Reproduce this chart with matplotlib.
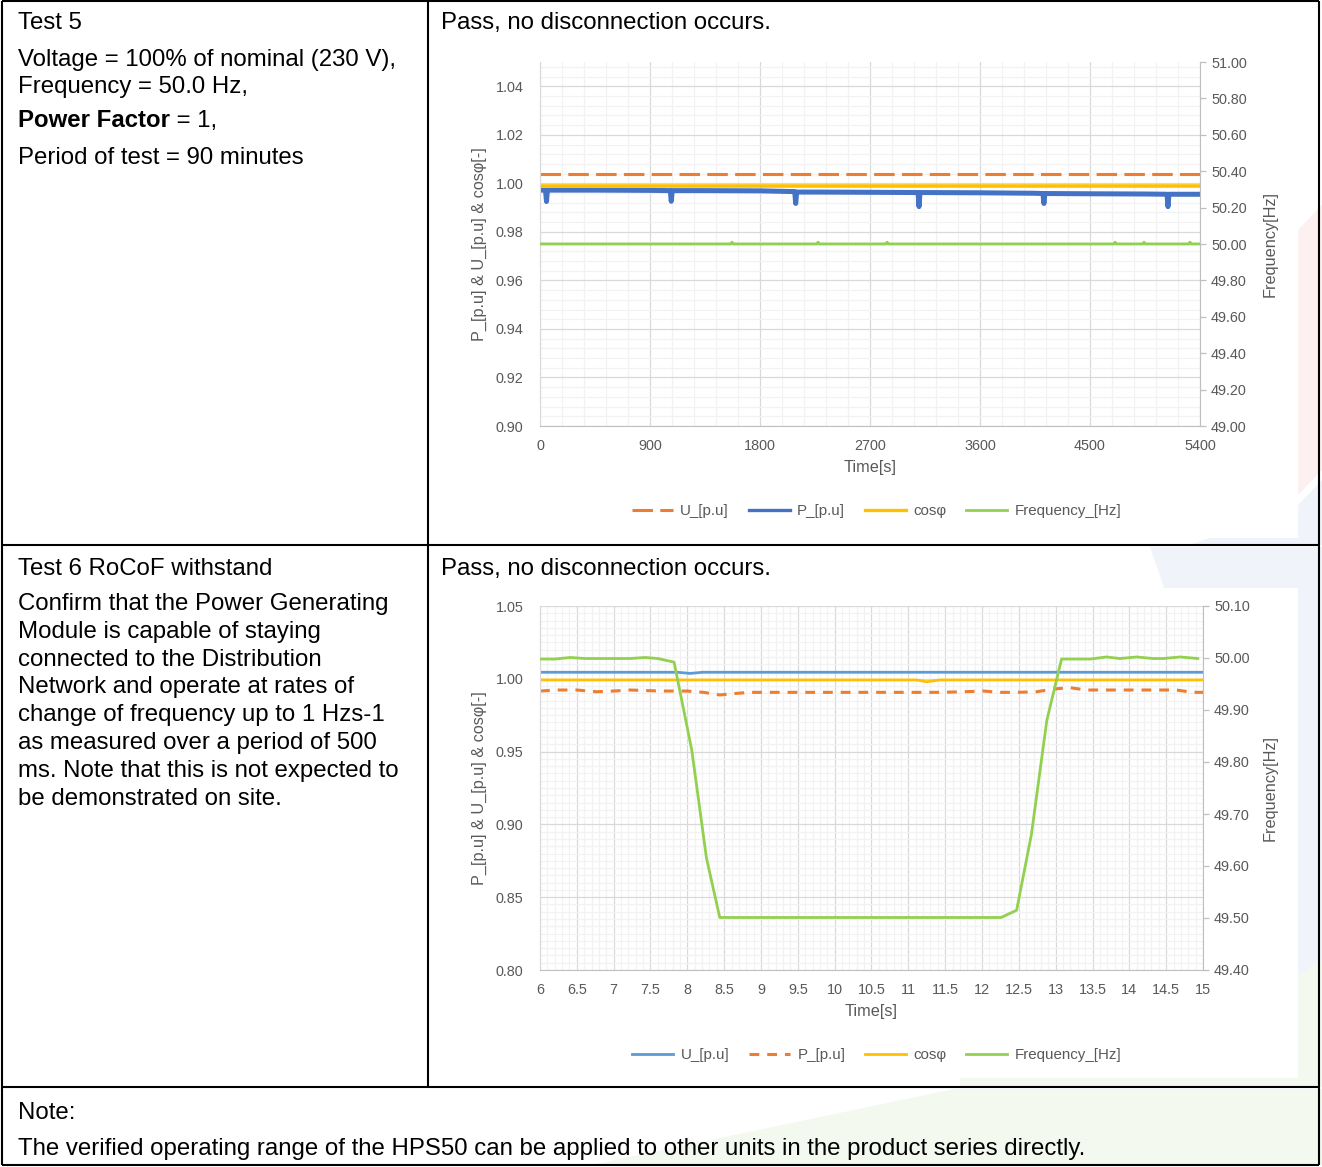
import matplotlib
matplotlib.use('Agg')
import matplotlib.pyplot as plt
from matplotlib.patches import Polygon, Rectangle
from matplotlib.ticker import MultipleLocator, FormatStrFormatter, FuncFormatter

plt.rcParams['font.family'] = ['Liberation Sans', 'DejaVu Sans']

W, H = 1322, 1167

# Test 5 - 90 minute run at nominal voltage / frequency
t5_p_time = [0, 45, 53, 61, 450, 900, 1066, 1074, 1082, 1350, 1800, 2084, 2092, 2100,
             2250, 2700, 3093, 3101, 3109, 3150, 3600, 4050, 4115, 4123, 4131, 4500,
             4950, 5130, 5138, 5146, 5400]
t5_p = [0.9972, 0.9972, 0.9925, 0.9972, 0.9972, 0.9971, 0.9970, 0.9926, 0.9970, 0.9970,
        0.9969, 0.9966, 0.9917, 0.9964, 0.9964, 0.9963, 0.9962, 0.9904, 0.9962, 0.9962,
        0.9961, 0.9959, 0.9958, 0.9917, 0.9958, 0.9957, 0.9956, 0.9955, 0.9904, 0.9955,
        0.9955]
t5_u_time = [0, 5400]
t5_u = [1.0040, 1.0040]
t5_cos_time = [0, 5400]
t5_cos = [0.9989, 0.9989]
t5_f_time = [0, 1561, 1571, 1581, 2265, 2275, 2285, 2830, 2840, 2850, 4695, 4705, 4715,
             4932, 4942, 4952, 5308, 5318, 5328, 5400]
t5_f = [50.00, 50.00, 50.01, 50.00, 50.00, 50.01, 50.00, 50.00, 50.01, 50.00, 50.00,
        50.01, 50.00, 50.00, 50.01, 50.00, 50.00, 50.01, 50.00, 50.00]

# Test 6 - RoCoF withstand
t6_u_time = [6.0, 7.86, 8.04, 8.21, 15.0]
t6_u = [1.0045, 1.0045, 1.0037, 1.0045, 1.0045]
t6_p_time = [6.0, 6.23, 6.50, 6.77, 7.00, 7.22, 7.63, 7.99, 8.22, 8.44, 8.67, 8.85, 11.43,
             11.75, 12.02, 12.24, 12.47, 12.74, 12.97, 13.19, 13.42, 14.64, 14.86, 15.0]
t6_p = [0.9916, 0.9923, 0.9923, 0.9911, 0.9916, 0.9923, 0.9916, 0.9916, 0.9907, 0.9889,
        0.9900, 0.9907, 0.9907, 0.9911, 0.9916, 0.9907, 0.9907, 0.9911, 0.9930, 0.9939,
        0.9923, 0.9923, 0.9907, 0.9907]
t6_cos_time = [6.0, 11.11, 11.25, 11.43, 15.0]
t6_cos = [0.9992, 0.9992, 0.9980, 0.9992, 0.9992]
t6_f_time = [6.0, 6.2, 6.41, 6.61, 6.8, 7.0, 7.22, 7.43, 7.60, 7.82, 8.06, 8.26, 8.44,
             12.26, 12.47, 12.67, 12.88, 13.08, 13.47, 13.69, 13.87, 14.10, 14.32, 14.46,
             14.69, 14.93]
t6_f = [49.998, 49.998, 50.001, 49.999, 49.999, 49.999, 49.999, 50.001, 49.999, 49.992,
        49.823, 49.615, 49.501, 49.501, 49.515, 49.660, 49.880, 49.998, 49.998, 50.002,
        49.999, 50.002, 49.999, 49.999, 50.002, 49.999]

left_text_2 = ['Confirm that the Power Generating', 'Module is capable of staying',
               'connected to the Distribution', 'Network and operate at rates of',
               'change of frequency up to 1 Hzs-1', 'as measured over a period of 500',
               'ms. Note that this is not expected to', 'be demonstrated on site.']

ORANGE = '#ED7D31'
BLUE_DARK = '#4472C4'
BLUE = '#5B9BD5'
YELLOW = '#FFC000'
GREEN = '#92D050'
GREY = '#595959'
FS = 17.3
TFS = 10.4   # tick labels
AFS = 11.7   # axis titles
LFS = 10.9   # legend

fig = plt.figure(figsize=(W / 100, H / 100), dpi=100)

bg = fig.add_axes([0, 0, 1, 1], zorder=0)
bg.set_xlim(0, W)
bg.set_ylim(H, 0)
bg.axis('off')

# faint watermark shapes behind the table
bg.add_patch(Polygon([(1298, 230), (1322, 205), (1322, 470), (1298, 495)], color='#FDF0F0', lw=0))
bg.add_patch(Polygon([(1190, 545), (1298, 505), (1322, 480), (1322, 545)], color='#F0F3F9', lw=0))
bg.add_patch(Polygon([(1150, 547), (1322, 547), (1322, 960), (1298, 975)], color='#F0F3F9', lw=0))
bg.add_patch(Polygon([(1298, 975), (1322, 960), (1322, 1087), (960, 1087), (960, 1078),
                      (1298, 1078)], color='#F3F9EF', lw=0))
bg.add_patch(Polygon([(954, 1089), (1322, 1089), (1322, 1165), (591, 1165)], color='#F3F9EF', lw=0))
bg.add_patch(Rectangle((432, 40), 866, 498, color='white', lw=0))
bg.add_patch(Rectangle((432, 588), 866, 490, color='white', lw=0))

# table grid
lk = dict(color='black', lw=1.5, solid_capstyle='butt')
bg.plot([2, 2], [1, 1165], **lk)
bg.plot([1319, 1319], [1, 1165], **lk)
bg.plot([2, 1319], [1, 1], **lk)
bg.plot([2, 1319], [1165, 1165], **lk)
bg.plot([2, 1319], [545, 545], **lk)
bg.plot([2, 1319], [1087, 1087], **lk)
bg.plot([428, 428], [1, 1087], **lk)

# left column text
bg.text(18, 29, 'Test 5', fontsize=FS, va='baseline')
bg.text(18, 66, 'Voltage = 100% of nominal (230 V),', fontsize=FS, va='baseline')
bg.text(18, 93, 'Frequency = 50.0 Hz,', fontsize=FS, va='baseline')
pf = bg.text(18, 127, 'Power Factor', fontsize=FS, fontweight='bold', va='baseline')
fig.canvas.draw()
bb = pf.get_window_extent()
bg.text(bb.x1, 127, ' = 1,', fontsize=FS, va='baseline')
bg.text(18, 164, 'Period of test = 90 minutes', fontsize=FS, va='baseline')

bg.text(18, 575, 'Test 6 RoCoF withstand', fontsize=FS, va='baseline')
for i, s in enumerate(left_text_2):
    bg.text(18, 610 + 27.8 * i, s, fontsize=FS, va='baseline')

bg.text(441, 29, 'Pass, no disconnection occurs.', fontsize=FS, va='baseline')
bg.text(441, 575, 'Pass, no disconnection occurs.', fontsize=FS, va='baseline')
bg.text(18, 1119, 'Note:', fontsize=FS, va='baseline')
bg.text(18, 1155, 'The verified operating range of the HPS50 can be applied to other units in the product series directly.',
        fontsize=FS, va='baseline')


def style_axes(ax, ax2):
    ax.set_axisbelow(True)
    ax.grid(which='major', color='#D9D9D9', lw=0.9)
    ax.grid(which='minor', color='#F2F2F2', lw=0.9)
    for sp in ['top', 'right']:
        ax.spines[sp].set_visible(False)
    ax.spines['left'].set_color('#D9D9D9')
    ax.spines['bottom'].set_color('#BFBFBF')
    for sp in ['top', 'left', 'bottom']:
        ax2.spines[sp].set_visible(False)
    ax2.spines['right'].set_color('#BFBFBF')
    ax.tick_params(axis='y', which='both', length=0, pad=12, labelsize=TFS, labelcolor=GREY)
    ax.tick_params(axis='x', which='both', length=0, pad=9, labelsize=TFS, labelcolor=GREY)
    ax2.tick_params(axis='y', which='major', length=4, width=0.9, color='#BFBFBF', pad=4,
                    labelsize=TFS, labelcolor=GREY)
    ax2.tick_params(axis='y', which='minor', length=0)
    ax.set_xlabel('Time[s]', fontsize=AFS, color=GREY)
    ax.set_ylabel('P_[p.u] & U_[p.u] & cosφ[-]', fontsize=AFS, color=GREY)
    ax2.set_ylabel('Frequency[Hz]', fontsize=AFS, color=GREY)


def add_legend(ax, handles, xc):
    leg = ax.legend(handles, [h.get_label() for h in handles], loc='center',
                    bbox_to_anchor=(xc, -0.2335), ncol=4, frameon=False, fontsize=LFS,
                    handlelength=2.7, columnspacing=1.3, handletextpad=0.5)
    for tx in leg.get_texts():
        tx.set_color(GREY)
    for ln in leg.get_lines():
        ln.set_linewidth(min(ln.get_linewidth(), 2.4))


# ---- chart for test 5 ----
ax = fig.add_axes([540 / W, 1 - 426 / H, 660 / W, 364 / H], zorder=2)
ax2 = ax.twinx()
lu, = ax.plot(t5_u_time, t5_u, color=ORANGE, lw=2.2, ls=(0, (6.7, 2.4)), label='U_[p.u]')
lp, = ax.plot(t5_p_time, t5_p, color=BLUE_DARK, lw=3.6, label='P_[p.u]')
lc, = ax.plot(t5_cos_time, t5_cos, color=YELLOW, lw=2.6, label='cosφ')
lf, = ax2.plot(t5_f_time, t5_f, color=GREEN, lw=2.0, label='Frequency_[Hz]')
ax.set_xlim(0, 5400)
ax.set_ylim(0.90, 1.05)
ax2.set_ylim(49.0, 51.0)
ax.set_xticks(range(0, 5401, 900))
ax.xaxis.set_minor_locator(MultipleLocator(180))
ax.set_yticks([0.90, 0.92, 0.94, 0.96, 0.98, 1.00, 1.02, 1.04])
ax.yaxis.set_minor_locator(MultipleLocator(0.004))
ax.yaxis.set_major_formatter(FormatStrFormatter('%.2f'))
ax2.set_yticks([49.0 + 0.2 * i for i in range(11)])
ax2.yaxis.set_major_formatter(FormatStrFormatter('%.2f'))
style_axes(ax, ax2)
ax.yaxis.set_label_coords(-0.081, 0.5)
ax2.yaxis.set_label_coords(1.095, 0.5)
ax.xaxis.set_label_coords(0.5, -0.094)
add_legend(ax, [lu, lp, lc, lf], 0.51)

# ---- chart for test 6 ----
bx = fig.add_axes([540 / W, 1 - 970 / H, 663 / W, 364 / H], zorder=2)
bx2 = bx.twinx()
mu, = bx.plot(t6_u_time, t6_u, color=BLUE, lw=2.0, label='U_[p.u]')
mp, = bx.plot(t6_p_time, t6_p, color=ORANGE, lw=2.2, ls=(0, (3.2, 2.6)), label='P_[p.u]')
mc, = bx.plot(t6_cos_time, t6_cos, color=YELLOW, lw=2.0, label='cosφ')
mf, = bx2.plot(t6_f_time, t6_f, color=GREEN, lw=2.0, label='Frequency_[Hz]')
bx.set_xlim(6, 15)
bx.set_ylim(0.80, 1.05)
bx2.set_ylim(49.40, 50.10)
bx.set_xticks([6 + 0.5 * i for i in range(19)])
bx.xaxis.set_major_formatter(FuncFormatter(lambda v, p: '%g' % v))
bx.xaxis.set_minor_locator(MultipleLocator(0.1))
bx.set_yticks([0.80, 0.85, 0.90, 0.95, 1.00, 1.05])
bx.yaxis.set_minor_locator(MultipleLocator(0.005))
bx.yaxis.set_major_formatter(FormatStrFormatter('%.2f'))
bx2.set_yticks([49.4 + 0.1 * i for i in range(8)])
bx2.yaxis.set_major_formatter(FormatStrFormatter('%.2f'))
style_axes(bx, bx2)
bx.yaxis.set_label_coords(-0.08, 0.5)
bx2.yaxis.set_label_coords(1.0905, 0.5)
bx.xaxis.set_label_coords(0.5, -0.0934)
add_legend(bx, [mu, mp, mc, mf], 0.508)

fig.savefig('out.png', dpi=100)
